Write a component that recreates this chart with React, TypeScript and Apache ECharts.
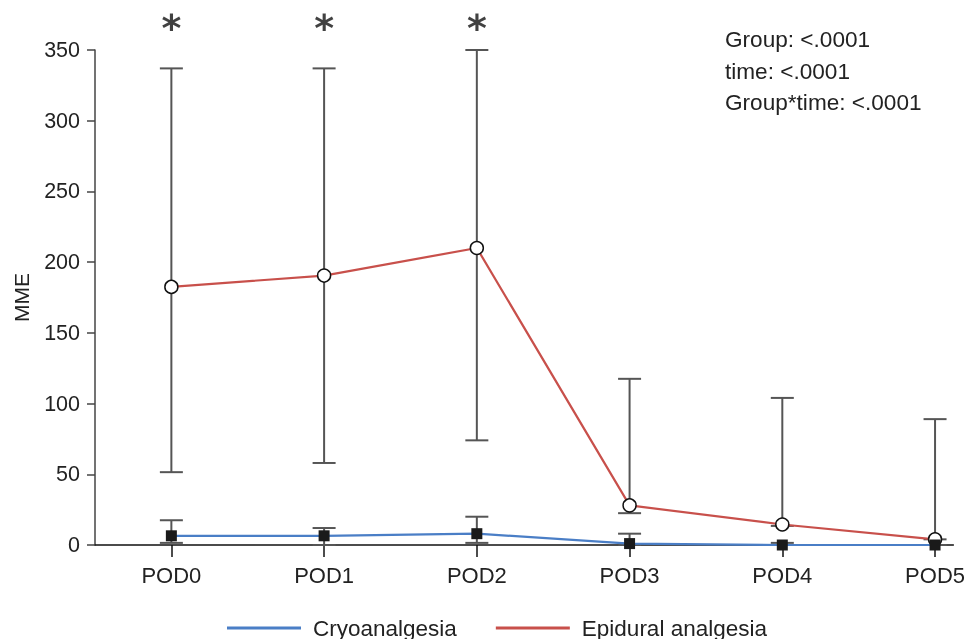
import React, { useEffect, useRef } from "react";
import * as echarts from "echarts";

const categories = ["POD0", "POD1", "POD2", "POD3", "POD4", "POD5"];
const cryoMean = [6.5, 6.5, 8, 1, 0, 0];
const cryoLow = [1.5, 0, 1.5, 0, 0, 0];
const cryoHigh = [17.5, 12, 20, 8, 1.5, 0];
const epiMean = [182.5, 190.5, 210, 28, 14.5, 4];
const epiLow = [51.5, 58, 74, 22.5, 13.5, 4];
const epiHigh = [337, 337, 350, 117.5, 104, 89];
const starCategories = [0, 1, 2];
const yTicks = { min: 0, max: 350, interval: 50 };
const statsText = ["Group: <.0001", "time: <.0001", "Group*time: <.0001"];
const seriesNames = ["Cryoanalgesia", "Epidural analgesia"];

const FONT = "Liberation Sans, Arial, sans-serif";
const BLUE = "#4a7ec6";
const RED = "#c8504b";
const BAR = "#555555";

function errorSeries(low: number[], high: number[], z: number) {
  return {
    type: "custom",
    z,
    silent: true,
    encode: { x: 0, y: [1, 2] },
    data: low.map((l, i) => [i, l, high[i]]),
    renderItem: (params: any, api: any) => {
      const x = api.value(0);
      const lo = api.coord([x, api.value(1)]);
      const hi = api.coord([x, api.value(2)]);
      const hw = 11.5;
      const st = { stroke: BAR, lineWidth: 2 };
      return {
        type: "group",
        children: [
          { type: "line", shape: { x1: lo[0], y1: lo[1], x2: hi[0], y2: hi[1] }, style: st },
          { type: "line", shape: { x1: hi[0] - hw, y1: hi[1], x2: hi[0] + hw, y2: hi[1] }, style: st },
          { type: "line", shape: { x1: lo[0] - hw, y1: lo[1], x2: lo[0] + hw, y2: lo[1] }, style: st },
        ],
      };
    },
  };
}

export default function App() {
  const ref = useRef<HTMLDivElement>(null);
  useEffect(() => {
    if (!ref.current) return;
    const chart = echarts.init(ref.current, undefined, { renderer: "svg" });
    const tickVals = categories.map((_, i) => i);
    chart.setOption({
      animation: false,
      textStyle: { fontFamily: FONT },
      grid: { left: 95, right: 13, top: 50, bottom: 94 },
      legend: {
        top: 616,
        left: 227,
        padding: 0,
        itemGap: 39,
        itemWidth: 74,
        itemHeight: 3,
        textStyle: { fontSize: 22.5, lineHeight: 24, color: "#222", fontFamily: FONT, padding: [0, 0, 0, 7] },
        data: [
          { name: seriesNames[0], icon: "rect", itemStyle: { color: BLUE, borderWidth: 0 } },
          { name: seriesNames[1], icon: "rect", itemStyle: { color: RED, borderWidth: 0 } },
        ],
      },
      xAxis: {
        type: "value",
        min: -0.5,
        max: 5.12,
        splitLine: { show: false },
        axisLine: { onZero: false, lineStyle: { color: "#111", width: 1.5 } },
        axisTick: { show: true, customValues: tickVals, length: 12, lineStyle: { color: "#111", width: 1.5 } },
        axisLabel: {
          customValues: tickVals,
          formatter: (v: number) => categories[Math.round(v)] ?? "",
          fontSize: 22,
          color: "#222",
          margin: 19,
          fontFamily: FONT,
        },
      },
      yAxis: {
        type: "value",
        min: yTicks.min,
        max: yTicks.max,
        interval: yTicks.interval,
        name: "MME",
        nameLocation: "middle",
        nameGap: 63,
        nameRotate: 90,
        nameTextStyle: { fontSize: 21, color: "#222", fontFamily: FONT },
        splitLine: { show: false },
        axisLine: { show: true, onZero: false, lineStyle: { color: "#444", width: 1.5 } },
        axisTick: { show: true, length: 8, lineStyle: { color: "#444", width: 1.5 } },
        axisLabel: { fontSize: 21.5, color: "#222", margin: 15, fontFamily: FONT },
      },
      graphic: statsText.map((t, i) => ({
        type: "text",
        left: 725,
        top: 28 + i * 31.5,
        style: { text: t, fontSize: 22.6, fill: "#222", fontFamily: FONT },
      })),
      series: [
        errorSeries(epiLow, epiHigh, 1),
        errorSeries(cryoLow, cryoHigh, 1),
        {
          name: seriesNames[1],
          type: "line",
          z: 3,
          data: epiMean.map((v, i) => [i, v]),
          lineStyle: { color: RED, width: 2.2 },
          itemStyle: { color: "#fff", borderColor: "#111", borderWidth: 1.5 },
          symbol: "circle",
          symbolSize: 13,
          showSymbol: true,
        },
        {
          name: seriesNames[0],
          type: "line",
          z: 4,
          data: cryoMean.map((v, i) => [i, v]),
          lineStyle: { color: BLUE, width: 2.2 },
          itemStyle: { color: "#1a1a1a" },
          symbol: "rect",
          symbolSize: 11,
          showSymbol: true,
        },
        {
          type: "scatter",
          silent: true,
          z: 5,
          symbolSize: 0,
          data: starCategories.map((i) => [i, yTicks.max]),
          label: {
            show: true,
            position: "top",
            distance: 3,
            formatter: "*",
            fontSize: 38,
            fontWeight: "bold",
            color: "#111",
            fontFamily: "DejaVu Sans",
          },
        },
      ],
    });
    return () => chart.dispose();
  }, []);
  return (
    <div
      ref={ref}
      style={{ position: "fixed", left: 0, top: 0, width: 968, height: 639, overflow: "hidden" }}
    />
  );
}
